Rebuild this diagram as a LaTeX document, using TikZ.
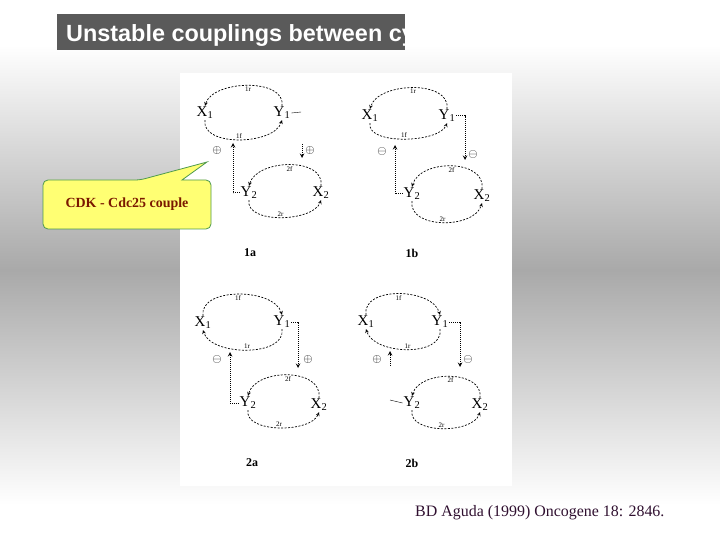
\documentclass[tikz,border=0pt]{standalone}
\usepackage{fontspec}
\setmainfont{Liberation Serif}
\newfontfamily\arialfont{Liberation Sans}
\definecolor{bgmid}{HTML}{A9A9A9}
\definecolor{titlegray}{HTML}{5A5A5A}
\definecolor{note}{HTML}{FFFF73}
\definecolor{noteedge}{HTML}{4E9A4E}
\definecolor{notetext}{HTML}{7A1800}
\definecolor{refink}{HTML}{301030}
\tikzset{
  var/.style={font=\fontsize{15}{15}\selectfont,inner sep=1bp},
  lbl/.style={font=\fontsize{7}{7}\selectfont,inner sep=1bp},
  sgn/.style={font=\fontsize{13}{13}\selectfont,inner sep=0pt},
  panel/.style={font=\bfseries\fontsize{12}{12}\selectfont},
  cyc/.style={->,dash pattern=on 2bp off 1.5bp,line width=.7bp},
  link/.style={->,densely dotted,line width=1bp},
  title/.style={text=white,font=\arialfont\bfseries\fontsize{23.5}{24}\selectfont,inner sep=0pt}
}
\begin{document}
\begin{tikzpicture}[x=1bp,y=-1bp,>=stealth]
\useasboundingbox (0,0) rectangle (720,540);
% background
\fill[white] (0,0) rectangle (720,540);
\shade[top color=white,bottom color=bgmid] (0,45) rectangle (720,270);
\shade[top color=bgmid,bottom color=white] (0,270) rectangle (720,505);
% title
\fill[titlegray] (57,14) rectangle (405,50);
\node[title,anchor=base west] (ttl) at (66,42) {Unstable couplings between cycles};
% figure
\fill[white] (180,73) rectangle (512,486);

% 1a
\node[var] (X1a) at (205,113) {X\textsubscript{1}};
\node[var] (Y1a) at (282,113) {Y\textsubscript{1}};
\node[var] (Y2a) at (249,193) {Y\textsubscript{2}};
\node[var] (X2a) at (321,193) {X\textsubscript{2}};
\draw[cyc] (Y1a.north) .. controls +(4,-28) and +(8,-26) .. (X1a.north) node[lbl,midway,below]{1r};
\draw[cyc] (X1a.south) .. controls +(-4,27) and +(-8,25) .. (Y1a.south) node[lbl,midway,above]{1f};
\draw[cyc] (X2a.north) .. controls +(4,-29) and +(8,-27) .. (Y2a.north) node[lbl,midway,below]{2f};
\draw[cyc] (Y2a.south) .. controls +(-4,24) and +(-8,22) .. (X2a.south) node[lbl,midway,above]{2r};
\coordinate (ua) at (233,143);
\draw[link] (Y2a.west) -| (ua);
\node[sgn] (pa) at (217,151) {$\oplus$};
\coordinate (ea) at (301,112);
\draw (Y1a.east) -- (ea);
\coordinate (sa) at (302,144);
\coordinate (ta) at (302,158);
\draw[link] (sa) -- (ta);
\node[sgn] (qa) at (310,151) {$\oplus$};
\node[panel] (la) at (250,253) {1a};

% 1b
\node[var] (X1b) at (370,116) {X\textsubscript{1}};
\node[var] (Y1b) at (447,116) {Y\textsubscript{1}};
\node[var] (Y2b) at (412,194) {Y\textsubscript{2}};
\node[var] (X2b) at (482,196) {X\textsubscript{2}};
\draw[cyc] (Y1b.north) .. controls +(4,-29) and +(8,-27) .. (X1b.north) node[lbl,midway,below]{1r};
\draw[cyc] (X1b.south) .. controls +(-4,22) and +(-8,20) .. (Y1b.south) node[lbl,midway,above]{1f};
\draw[cyc] (X2b.north) .. controls +(4,-30) and +(8,-28) .. (Y2b.north) node[lbl,midway,below]{2f};
\draw[cyc] (Y2b.south) .. controls +(-4,28) and +(-8,26) .. (X2b.south) node[lbl,midway,above]{2r};
\coordinate (ub) at (395,145);
\draw[link] (Y2b.west) -| (ub);
\node[sgn] (pb) at (382,152) {$\ominus$};
\coordinate (vb) at (465,160);
\draw[link] (Y1b.east) -| (vb);
\node[sgn] (qb) at (473,155) {$\ominus$};
\node[panel] (lb) at (412,253) {1b};

% 2a
\node[var] (X1c) at (203,323) {X\textsubscript{1}};
\node[var] (Y1c) at (282,322) {Y\textsubscript{1}};
\node[var] (Y2c) at (248,403) {Y\textsubscript{2}};
\node[var] (X2c) at (319,405) {X\textsubscript{2}};
\draw[cyc] (X1c.north) .. controls +(-4,-29) and +(-8,-27) .. (Y1c.north) node[lbl,midway,below]{1f};
\draw[cyc] (Y1c.south) .. controls +(4,28) and +(8,26) .. (X1c.south) node[lbl,midway,above]{1r};
\draw[cyc] (X2c.north) .. controls +(4,-30) and +(8,-28) .. (Y2c.north) node[lbl,midway,below]{2f};
\draw[cyc] (Y2c.south) .. controls +(-4,23) and +(-8,21) .. (X2c.south) node[lbl,midway,above]{2r};
\coordinate (uc) at (230,352);
\draw[link] (Y2c.west) -| (uc);
\node[sgn] (pc) at (217,360) {$\ominus$};
\coordinate (vc) at (298,368);
\draw[link] (Y1c.east) -| (vc);
\node[sgn] (qc) at (308,360) {$\oplus$};
\node[panel] (lc) at (252,463) {2a};

% 2b
\node[var] (X1d) at (366,322) {X\textsubscript{1}};
\node[var] (Y1d) at (440,322) {Y\textsubscript{1}};
\node[var] (Y2d) at (412,403) {Y\textsubscript{2}};
\node[var] (X2d) at (480,405) {X\textsubscript{2}};
\draw[cyc] (X1d.north) .. controls +(-4,-29) and +(-8,-27) .. (Y1d.north) node[lbl,midway,below]{1f};
\draw[cyc] (Y1d.south) .. controls +(4,28) and +(8,26) .. (X1d.south) node[lbl,midway,above]{1r};
\draw[cyc] (X2d.north) .. controls +(4,-28) and +(8,-26) .. (Y2d.north) node[lbl,midway,below]{2f};
\draw[cyc] (Y2d.south) .. controls +(-4,24) and +(-8,22) .. (X2d.south) node[lbl,midway,above]{2r};
\coordinate (sd) at (390,366);
\coordinate (td) at (390,351);
\draw[link] (sd) -- (td);
\node[sgn] (pd) at (377,360) {$\oplus$};
\coordinate (vd) at (460,367);
\draw[link] (Y1d.east) -| (vd);
\node[sgn] (qd) at (468,360) {$\ominus$};
\coordinate (bd) at (390,400);
\draw (bd) -- (Y2d.west);
\node[panel] (ld) at (412,463) {2b};

% callout
\draw[noteedge,fill=note,line width=.8bp,rounded corners=5bp] (43,205) |- (140,180) [sharp corners] -- (207,162) -- (182,180) [rounded corners=5bp] -| (211,205) |- (43,229) -- cycle;
\node[text=notetext,font=\bfseries\fontsize{14}{14}\selectfont] (cdk) at (127,204) {CDK - Cdc25 couple};

% reference
\node[text=refink,font=\fontsize{16}{16}\selectfont,anchor=base west,inner sep=0pt] (ref) at (415,516) {BD Aguda (1999) Oncogene 18: 2846.};
\end{tikzpicture}
\end{document}
